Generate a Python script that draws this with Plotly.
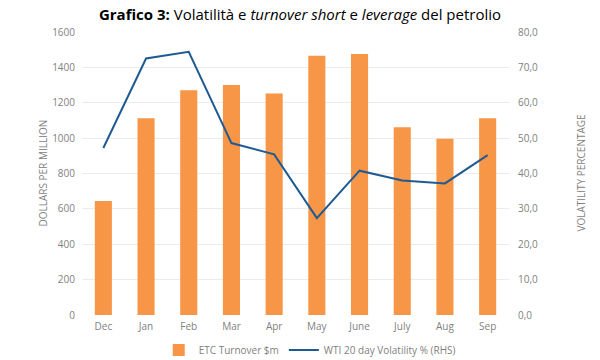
import plotly.graph_objects as go

months = ["Dec", "Jan", "Feb", "Mar", "Apr", "May", "June", "July", "Aug", "Sep"]
turnover = [645, 1113, 1270, 1300, 1252, 1466, 1476, 1061, 996, 1113]
volatility = [47.2, 72.5, 74.4, 48.6, 45.4, 27.4, 40.8, 38.0, 37.2, 45.2]
left_ticks = [0, 200, 400, 600, 800, 1000, 1200, 1400, 1600]
right_ticks = [0, 10, 20, 30, 40, 50, 60, 70, 80]

gray = "#7f7f7f"
font_family = "Open Sans, Lato, sans-serif"

W, H = 600, 360
L, R, T, B = 82, 91, 32, 45
PW = W - L - R

fig = go.Figure()
fig.add_trace(go.Bar(
    x=months, y=turnover, name="ETC Turnover $m",
    marker=dict(color="#f79646", line=dict(width=0)),
    yaxis="y",
))
fig.add_trace(go.Scatter(
    x=months, y=volatility, name="WTI 20 day Volatility % (RHS)",
    mode="lines", line=dict(color="#1f5b93", width=2),
    yaxis="y2",
))

fig.update_layout(
    width=W, height=H,
    margin=dict(l=L, r=R, t=T, b=B, autoexpand=False),
    paper_bgcolor="white", plot_bgcolor="white",
    separators=",.",
    font=dict(family=font_family, size=10, color=gray),
    title=dict(
        text="<b>Grafico 3:</b> Volatilità e <i>turnover short</i> e <i>leverage</i> del petrolio",
        x=300 / W, xanchor="center", xref="container",
        y=1 - 15 / H, yanchor="middle", yref="container",
        font=dict(family=font_family, size=15, color="#000000"),
    ),
    bargap=0.6,
    showlegend=True,
    legend=dict(orientation="h", x=320 / W, xanchor="center", y=10 / H, yanchor="middle",
                yref="container", font=dict(size=10, color=gray), traceorder="normal"),
    xaxis=dict(showgrid=False, showline=False, ticks="", automargin=False,
               ticklabelstandoff=4, tickfont=dict(size=10, color=gray)),
    yaxis=dict(
        range=[0, 1600], tickvals=left_ticks, tickformat="d", automargin=False,
        showgrid=True, gridcolor="#ebebeb", gridwidth=1, zeroline=False, showline=False,
        ticks="", ticklen=0, ticklabelstandoff=6, tickfont=dict(size=10, color=gray),
    ),
    yaxis2=dict(
        range=[0, 80], tickvals=right_ticks, tickformat=".1f", automargin=False,
        overlaying="y", side="right", showgrid=False, zeroline=False, showline=False,
        ticklabelstandoff=8, tickfont=dict(size=10, color=gray),
    ),
    annotations=[
        dict(text="DOLLARS PER MILLION", xref="paper", yref="paper",
             x=(42 - L) / PW, y=0.5, xanchor="center", yanchor="middle",
             textangle=-90, showarrow=False, font=dict(size=10, color=gray)),
        dict(text="VOLATILITY PERCENTAGE", xref="paper", yref="paper",
             x=(580 - L) / PW, y=0.5, xanchor="center", yanchor="middle",
             textangle=-90, showarrow=False, font=dict(size=10, color=gray)),
    ],
)

fig.write_html("out.html", config={"displayModeBar": False},
               post_script="document.body.style.margin='0px';")
